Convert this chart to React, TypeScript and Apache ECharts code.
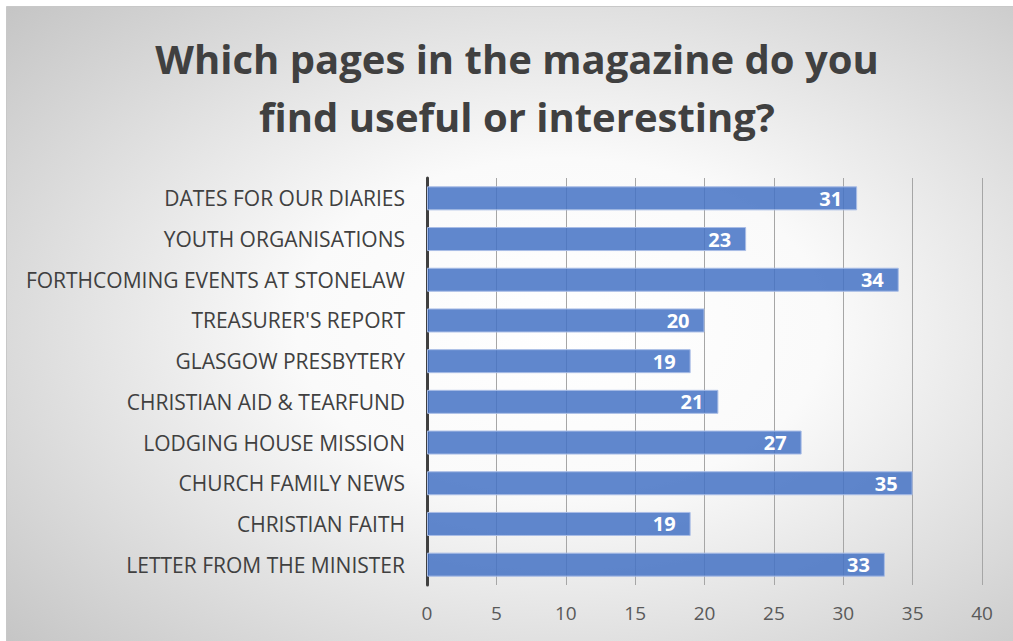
import React, { useEffect, useRef } from "react";
import * as echarts from "echarts";

const categories = [
  "DATES FOR OUR DIARIES",
  "YOUTH ORGANISATIONS",
  "FORTHCOMING EVENTS AT STONELAW",
  "TREASURER'S REPORT",
  "GLASGOW PRESBYTERY",
  "CHRISTIAN AID & TEARFUND",
  "LODGING HOUSE MISSION",
  "CHURCH FAMILY NEWS",
  "CHRISTIAN FAITH",
  "LETTER FROM THE MINISTER",
];
const values = [31, 23, 34, 20, 19, 21, 27, 35, 19, 33];
const titleLines = ["Which pages in the magazine do you", "find useful or interesting?"];

export default function App() {
  const ref = useRef<HTMLDivElement>(null);
  useEffect(() => {
    if (!ref.current) return;
    const chart = echarts.init(ref.current, null, { renderer: "svg" });
    chart.setOption({
      animation: false,
      graphic: [
        {
          type: "rect",
          z: -10,
          silent: true,
          shape: { x: 6.5, y: 6.5, width: 1010, height: 640 },
          style: {
            fill: new echarts.graphic.RadialGradient(0.55, 0.5, 0.75, [
              { offset: 0, color: "#ffffff" },
              { offset: 0.35, color: "#fafafa" },
              { offset: 1, color: "#c4c4c4" },
            ]),
            stroke: "#c8c8c8",
            lineWidth: 1,
          },
        },
      ],
      title: {
        text: titleLines.join("\n"),
        left: 512,
        textAlign: "center",
        top: 24,
        textStyle: {
          fontFamily: "Open Sans",
          fontWeight: "bold",
          fontSize: 40,
          lineHeight: 58,
          color: "#404040",
        },
      },
      grid: { left: 427, right: 31, top: 178, bottom: 56, containLabel: false },
      xAxis: {
        type: "value",
        min: 0,
        max: 40,
        interval: 5,
        axisLine: { show: false },
        axisTick: { show: false },
        splitLine: { show: true, lineStyle: { color: "#a6a6a6", width: 1 } },
        axisLabel: { fontFamily: "Open Sans", fontSize: 19, color: "#595959", margin: 18 },
      },
      yAxis: {
        type: "category",
        data: categories,
        inverse: true,
        axisLine: { show: true, lineStyle: { color: "#404040", width: 3 } },
        axisTick: { show: false },
        axisLabel: { fontFamily: "Open Sans", fontSize: 21, color: "#404040", margin: 22 },
      },
      series: [
        {
          type: "bar",
          data: values,
          barWidth: "59%",
          itemStyle: {
            color: "rgba(68,114,196,0.85)",
            borderColor: "#a9bde6",
            borderWidth: 1,
          },
          label: {
            show: true,
            position: "insideRight",
            distance: 15,
            color: "#ffffff",
            fontFamily: "Open Sans",
            fontWeight: "bold",
            fontSize: 20,
          },
        },
      ],
    });
    return () => chart.dispose();
  }, []);
  return (
    <div
      ref={ref}
      style={{ position: "absolute", left: 0, top: 0, width: 1013, height: 641, background: "#ffffff" }}
    />
  );
}
